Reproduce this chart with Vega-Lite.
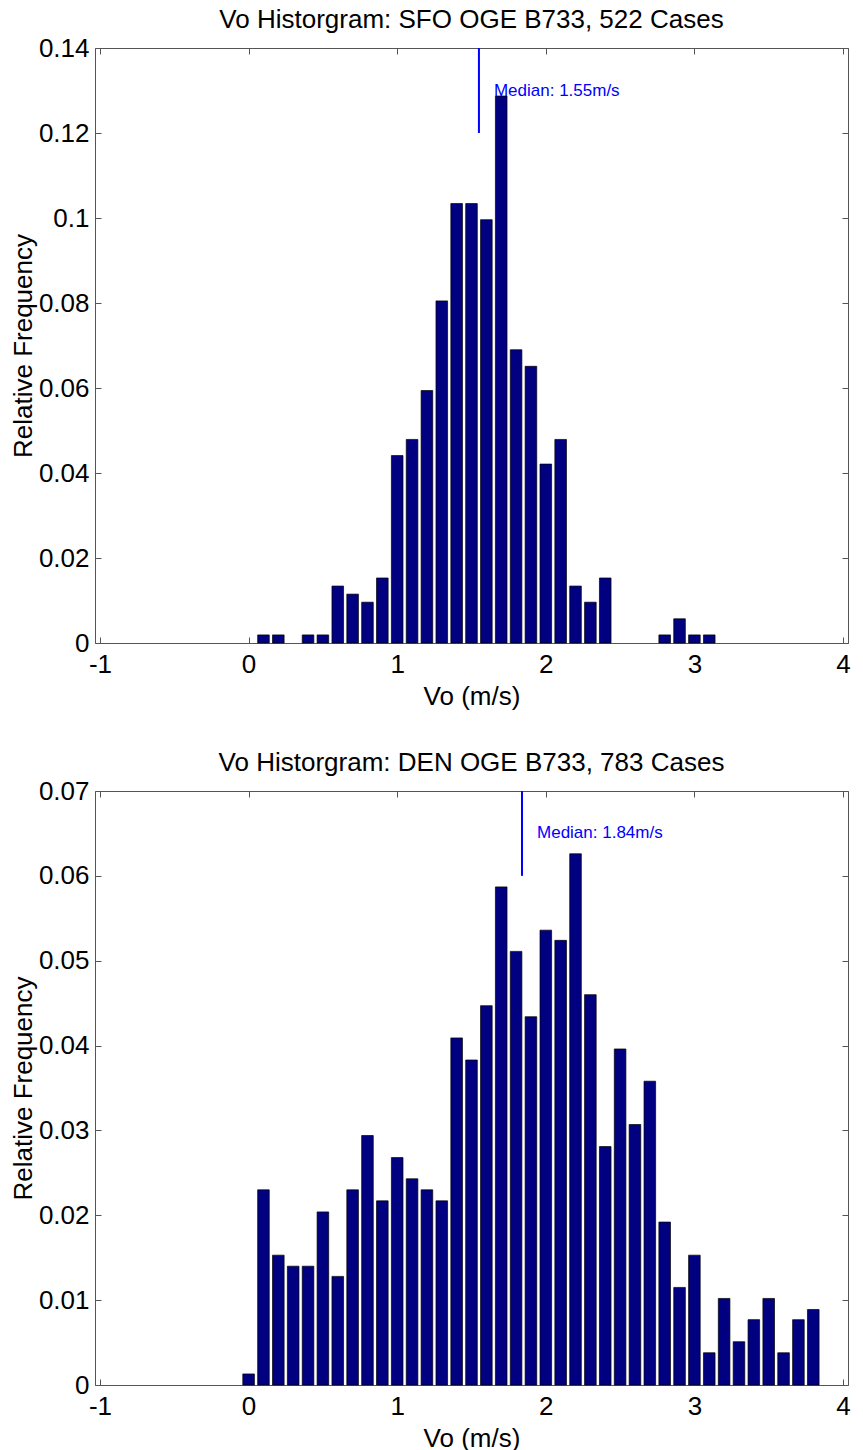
{
  "$schema": "https://vega.github.io/schema/vega-lite/v6.json",
  "padding": {"left": 9, "top": 6, "right": 10, "bottom": 0},
  "spacing": 39,
  "config": {
    "font": "Liberation Sans",
    "view": {"stroke": "#555555", "strokeWidth": 1},
    "axis": {
      "labelFontSize": 26,
      "titleFontSize": 26,
      "labelColor": "#000000",
      "titleColor": "#000000",
      "titleFontWeight": "normal",
      "grid": false,
      "domain": false,
      "tickColor": "#555555",
      "tickSize": -6
    },
    "axisX": {"labelPadding": 14, "titlePadding": 6},
    "axisY": {"labelPadding": 12, "titlePadding": 2},
    "title": {"fontSize": 26, "fontWeight": "normal", "color": "#000000", "offset": 2}
  },
  "datasets": {
    "sfo": [
      {"vo": 0.1, "freq": 0.0019}, {"vo": 0.2, "freq": 0.0019},
      {"vo": 0.4, "freq": 0.0019}, {"vo": 0.5, "freq": 0.0019},
      {"vo": 0.6, "freq": 0.0134}, {"vo": 0.7, "freq": 0.0115},
      {"vo": 0.8, "freq": 0.0096}, {"vo": 0.9, "freq": 0.0153},
      {"vo": 1.0, "freq": 0.0441}, {"vo": 1.1, "freq": 0.0479},
      {"vo": 1.2, "freq": 0.0594}, {"vo": 1.3, "freq": 0.0805},
      {"vo": 1.4, "freq": 0.1034}, {"vo": 1.5, "freq": 0.1034},
      {"vo": 1.6, "freq": 0.0996}, {"vo": 1.7, "freq": 0.1287},
      {"vo": 1.8, "freq": 0.0690}, {"vo": 1.9, "freq": 0.0651},
      {"vo": 2.0, "freq": 0.0421}, {"vo": 2.1, "freq": 0.0479},
      {"vo": 2.2, "freq": 0.0134}, {"vo": 2.3, "freq": 0.0096},
      {"vo": 2.4, "freq": 0.0153}, {"vo": 2.8, "freq": 0.0019},
      {"vo": 2.9, "freq": 0.0057}, {"vo": 3.0, "freq": 0.0019},
      {"vo": 3.1, "freq": 0.0019}
    ],
    "den": [
      {"vo": 0.0, "freq": 0.0013}, {"vo": 0.1, "freq": 0.0230},
      {"vo": 0.2, "freq": 0.0153}, {"vo": 0.3, "freq": 0.0140},
      {"vo": 0.4, "freq": 0.0140}, {"vo": 0.5, "freq": 0.0204},
      {"vo": 0.6, "freq": 0.0128}, {"vo": 0.7, "freq": 0.0230},
      {"vo": 0.8, "freq": 0.0294}, {"vo": 0.9, "freq": 0.0217},
      {"vo": 1.0, "freq": 0.0268}, {"vo": 1.1, "freq": 0.0243},
      {"vo": 1.2, "freq": 0.0230}, {"vo": 1.3, "freq": 0.0217},
      {"vo": 1.4, "freq": 0.0409}, {"vo": 1.5, "freq": 0.0383},
      {"vo": 1.6, "freq": 0.0447}, {"vo": 1.7, "freq": 0.0587},
      {"vo": 1.8, "freq": 0.0511}, {"vo": 1.9, "freq": 0.0434},
      {"vo": 2.0, "freq": 0.0536}, {"vo": 2.1, "freq": 0.0524},
      {"vo": 2.2, "freq": 0.0626}, {"vo": 2.3, "freq": 0.0460},
      {"vo": 2.4, "freq": 0.0281}, {"vo": 2.5, "freq": 0.0396},
      {"vo": 2.6, "freq": 0.0307}, {"vo": 2.7, "freq": 0.0358},
      {"vo": 2.8, "freq": 0.0192}, {"vo": 2.9, "freq": 0.0115},
      {"vo": 3.0, "freq": 0.0153}, {"vo": 3.1, "freq": 0.0038},
      {"vo": 3.2, "freq": 0.0102}, {"vo": 3.3, "freq": 0.0051},
      {"vo": 3.4, "freq": 0.0077}, {"vo": 3.5, "freq": 0.0102},
      {"vo": 3.6, "freq": 0.0038}, {"vo": 3.7, "freq": 0.0077},
      {"vo": 3.8, "freq": 0.0089}
    ],
    "sfoMedian": [{"median": 1.55, "top": 0.14, "bottom": 0.12, "labelY": 0.13, "label": "Median: 1.55m/s"}],
    "denMedian": [{"median": 1.84, "top": 0.07, "bottom": 0.06, "labelY": 0.065, "label": "Median: 1.84m/s"}]
  },
  "vconcat": [
    {
      "width": 753,
      "height": 595,
      "title": "Vo Historgram: SFO OGE B733, 522 Cases",
      "layer": [
        {
          "data": {"name": "sfo"},
          "mark": {"type": "bar", "size": 11.6, "color": "#000080", "stroke": "#000000", "strokeWidth": 0.7},
          "encoding": {
            "x": {
              "field": "vo", "type": "quantitative",
              "scale": {"domain": [-1, 4], "nice": false, "zero": false},
              "axis": {"values": [-1, 0, 1, 2, 3, 4], "labelExpr": "'' + datum.value", "title": "Vo (m/s)"}
            },
            "y": {
              "field": "freq", "type": "quantitative",
              "scale": {"domain": [0, 0.14], "nice": false},
              "axis": {"values": [0, 0.02, 0.04, 0.06, 0.08, 0.1, 0.12, 0.14], "format": "~g", "title": "Relative Frequency"}
            }
          }
        },
        {
          "data": {"name": "sfoMedian"},
          "mark": {"type": "rule", "color": "#0000ff", "strokeWidth": 2},
          "encoding": {
            "x": {"field": "median", "type": "quantitative", "axis": {"orient": "top", "values": [-1, 0, 1, 2, 3, 4], "labels": false, "title": null}},
            "y": {"field": "top", "type": "quantitative", "axis": {"orient": "right", "values": [0, 0.02, 0.04, 0.06, 0.08, 0.1, 0.12, 0.14], "labels": false, "title": null}},
            "y2": {"field": "bottom"}
          }
        },
        {
          "data": {"name": "sfoMedian"},
          "mark": {"type": "text", "color": "#0000ff", "align": "left", "baseline": "middle", "dx": 15, "fontSize": 17},
          "encoding": {
            "x": {"field": "median", "type": "quantitative", "axis": null},
            "y": {"field": "labelY", "type": "quantitative", "axis": null},
            "text": {"field": "label"}
          }
        }
      ],
      "resolve": {"axis": {"x": "independent", "y": "independent"}}
    },
    {
      "width": 753,
      "height": 594,
      "title": "Vo Historgram: DEN OGE B733, 783 Cases",
      "layer": [
        {
          "data": {"name": "den"},
          "mark": {"type": "bar", "size": 11.6, "color": "#000080", "stroke": "#000000", "strokeWidth": 0.7},
          "encoding": {
            "x": {
              "field": "vo", "type": "quantitative",
              "scale": {"domain": [-1, 4], "nice": false, "zero": false},
              "axis": {"values": [-1, 0, 1, 2, 3, 4], "labelExpr": "'' + datum.value", "title": "Vo (m/s)"}
            },
            "y": {
              "field": "freq", "type": "quantitative",
              "scale": {"domain": [0, 0.07], "nice": false},
              "axis": {"values": [0, 0.01, 0.02, 0.03, 0.04, 0.05, 0.06, 0.07], "format": "~g", "title": "Relative Frequency"}
            }
          }
        },
        {
          "data": {"name": "denMedian"},
          "mark": {"type": "rule", "color": "#0000ff", "strokeWidth": 2},
          "encoding": {
            "x": {"field": "median", "type": "quantitative", "axis": {"orient": "top", "values": [-1, 0, 1, 2, 3, 4], "labels": false, "title": null}},
            "y": {"field": "top", "type": "quantitative", "axis": {"orient": "right", "values": [0, 0.01, 0.02, 0.03, 0.04, 0.05, 0.06, 0.07], "labels": false, "title": null}},
            "y2": {"field": "bottom"}
          }
        },
        {
          "data": {"name": "denMedian"},
          "mark": {"type": "text", "color": "#0000ff", "align": "left", "baseline": "middle", "dx": 15, "fontSize": 17},
          "encoding": {
            "x": {"field": "median", "type": "quantitative", "axis": null},
            "y": {"field": "labelY", "type": "quantitative", "axis": null},
            "text": {"field": "label"}
          }
        }
      ],
      "resolve": {"axis": {"x": "independent", "y": "independent"}}
    }
  ]
}
